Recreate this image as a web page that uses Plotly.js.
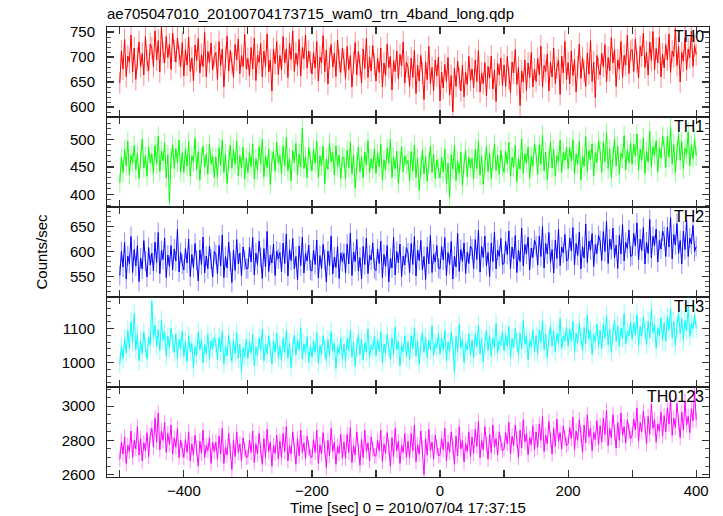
<!DOCTYPE html>
<html>
<head>
<meta charset="utf-8">
<script src="https://cdn.plot.ly/plotly-3.0.1.min.js"></script>
<style>html,body{margin:0;padding:0;background:#fff}#chart{width:723px;height:516px}</style>
</head>
<body>
<div id="chart"></div>
<script>
// time grid: bins from tStart with step binSize (sec)
const tStart = -500;
const binSize = 2.5;
const seriesNames = ["TH0", "TH1", "TH2", "TH3", "TH0123"];
const seriesColors = ["#ff0000", "#00ff00", "#0000ff", "#00ffff", "#ff00ff"];
const errorColors = ["rgba(255,0,0,0.45)", "rgba(0,255,0,0.45)", "rgba(0,0,255,0.45)", "rgba(0,255,255,0.45)", "rgba(255,0,255,0.45)"];
const errSize = [22, 18, 20, 28, 45];

const th0 = [
648,712,676,735,661,702,689,744,670,718,655,697,730,681,707,664,741,693,672,726,
718,681,752,694,733,670,760,709,688,741,699,726,675,748,712,690,738,703,681,729,
662,715,684,740,671,698,652,724,693,737,668,705,681,749,660,711,689,728,674,701,
709,655,731,683,716,640,699,742,672,713,688,659,725,694,736,667,703,681,745,676,
697,662,719,676,738,653,704,689,727,660,712,681,746,670,694,632,716,687,731,665,
703,674,741,688,716,659,727,695,752,671,708,683,735,662,719,697,744,678,712,690,
666,709,678,731,652,700,688,743,671,714,646,697,725,680,708,661,734,692,669,718,
694,657,721,675,703,640,689,729,664,711,683,648,716,677,737,659,700,672,723,686,
652,697,669,718,640,688,663,726,679,701,634,693,671,712,657,705,682,730,648,690,
680,641,698,659,713,627,684,652,703,668,615,690,655,721,646,679,633,694,662,700,
612,670,638,685,651,699,624,663,590,678,641,692,657,632,684,620,669,645,701,653,
676,639,694,651,713,630,668,647,689,622,681,658,702,636,674,611,687,664,698,643,
684,641,701,657,629,690,668,715,645,679,603,672,650,694,633,688,659,709,640,676,
651,697,664,722,640,683,671,706,632,690,660,718,647,679,694,625,702,668,731,655,
689,646,712,663,695,630,681,726,657,699,672,641,708,666,733,651,690,619,703,677,
664,707,681,725,650,699,672,739,688,715,641,694,676,731,659,703,684,744,667,711,
715,671,736,690,658,721,702,748,679,710,664,730,693,751,674,717,688,740,660,706,
678,725,694,746,669,712,701,757,683,721,650,709,692,738,674,716,699,752,681,723,
705];

const th1 = [
421,468,440,482,452,497,436,471,458,489,445,475,429,463,501,448,470,433,486,457,
474,438,489,455,506,442,479,461,494,430,472,385,466,490,447,483,458,499,441,476,
440,483,451,496,433,470,459,502,445,478,426,467,488,450,474,437,492,456,469,431,
468,431,485,452,499,440,474,420,463,490,447,481,455,497,434,471,448,486,428,466,
439,476,451,492,428,465,444,487,456,501,432,470,449,483,418,461,478,442,495,457,
471,437,488,452,504,443,466,425,480,458,493,436,474,450,521,447,469,430,485,461,
443,482,457,497,431,470,452,488,419,465,446,494,459,476,435,489,450,472,429,468,
466,428,481,449,495,437,472,412,458,486,441,469,430,477,453,498,439,465,447,483,
438,475,450,491,426,463,444,484,457,500,431,468,446,479,420,461,487,441,470,455,
462,425,478,443,490,431,466,408,452,481,437,469,424,458,488,440,473,429,463,446,
430,468,441,483,419,457,395,472,446,489,425,461,438,477,416,455,480,432,467,449,
465,428,482,447,496,435,470,418,458,487,441,475,429,463,492,444,471,436,480,453,
440,479,456,495,432,468,450,489,423,465,446,501,438,474,457,486,429,469,452,492,
473,436,490,455,508,443,477,427,465,495,448,482,433,471,459,499,440,476,462,486,
447,485,461,500,437,474,455,496,426,470,451,505,442,480,463,492,434,476,458,498,
478,440,495,460,512,447,483,431,469,501,452,488,437,475,466,507,445,481,458,494,
455,492,470,510,444,483,462,503,438,478,459,515,450,487,471,498,441,485,466,506,
487,449,505,468,522,455,491,440,479,509,462,496,446,484,473,514,452,489,465,501,
470];

const th2 = [
552,600,569,618,545,591,576,630,558,604,571,612,540,587,565,622,581,549,608,573,
597,561,619,578,638,556,602,584,627,548,593,570,612,563,605,581,644,559,598,575,
563,606,577,625,550,594,568,616,582,541,603,574,629,557,591,566,611,585,549,600,
594,555,612,571,633,548,590,567,619,580,538,603,562,624,575,597,551,609,583,566,
566,609,579,628,553,597,574,621,588,546,606,569,640,560,593,577,615,552,601,585,
598,559,617,576,635,551,604,582,626,565,590,543,611,572,629,557,596,581,613,563,
561,603,574,623,547,592,566,614,584,539,601,572,631,555,589,568,610,546,597,580,
596,557,615,575,637,552,599,580,624,561,588,545,610,574,627,556,593,583,617,566,
562,605,576,621,548,594,570,612,539,586,567,628,553,600,577,615,550,591,573,608,
597,558,616,574,630,551,603,582,622,563,590,544,609,575,632,558,595,579,612,567,
565,610,583,628,552,598,574,620,545,591,569,636,560,604,580,617,556,599,576,611,
605,566,624,584,643,559,610,588,631,571,598,550,617,580,639,565,603,590,626,574,
576,620,594,641,566,609,585,632,558,603,580,647,571,614,595,629,563,607,588,623,
612,573,631,590,650,567,616,595,638,578,604,557,623,586,645,572,609,597,634,581,
584,627,601,648,573,616,592,639,565,610,587,655,578,621,603,636,570,614,596,632,
621,582,640,600,660,576,625,604,647,587,613,566,632,595,654,581,618,606,643,590,
592,636,611,657,583,625,602,648,575,619,596,664,587,630,612,645,579,622,605,641,
630,590,649,609,668,585,634,613,656,596,622,575,641,604,663,590,627,615,652,600,
610];

const th3 = [
995,1048,1012,1070,1028,1095,1041,1120,1060,1145,1038,1082,1005,1064,1027,1090,1045,1010,1075,1052,
1180,1072,1110,1048,1097,1035,1125,1066,1089,1020,1078,1043,1101,1056,1030,1084,1012,1069,1040,1093,
1018,1062,1003,1079,1032,1056,985,1047,1021,1090,1038,1070,999,1052,1027,1083,1010,1064,1041,1075,
1057,1009,1074,1031,1092,996,1048,1020,1081,1037,1003,1066,1025,1088,1012,1054,973,1042,1016,1069,
1012,1061,1028,1083,990,1047,1019,1072,1036,1098,1004,1055,1026,1079,1041,996,1064,1030,1087,1015,
1050,1006,1072,1029,1094,1013,1058,985,1044,1081,1022,1067,1037,1103,1010,1055,1028,1076,1000,1049,
1015,1063,1030,1088,998,1051,1024,1079,1040,1005,1068,1019,1092,1034,1057,982,1046,1027,1073,1011,
1054,1003,1071,1035,1096,1016,1060,990,1045,1082,1024,1069,1008,1058,1031,1099,1014,1052,1037,1077,
1019,1068,1033,1091,1001,1055,1027,1084,1043,1010,1073,1024,1105,1038,1062,990,1050,1031,1080,1016,
1060,1008,1079,1041,1102,1019,1064,995,1052,1088,1030,1074,1013,1066,1037,1108,1021,1057,1043,1085,
1025,1072,1038,1095,1005,1061,1033,1090,1048,972,1077,1030,1112,1044,1068,1000,1056,1036,1085,1021,
1066,1014,1083,1047,1110,1025,1071,1002,1058,1095,1036,1080,1019,1073,1044,1115,1028,1064,1050,1092,
1034,1082,1048,1105,1015,1071,1043,1100,1060,1022,1087,1040,1123,1054,1078,1009,1066,1047,1097,1031,
1079,1026,1096,1060,1124,1038,1084,1015,1071,1108,1049,1093,1032,1086,1057,1130,1041,1077,1063,1105,
1049,1098,1063,1121,1030,1087,1058,1116,1076,1035,1103,1055,1140,1069,1094,1024,1082,1062,1113,1046,
1095,1040,1112,1074,1138,1052,1099,1030,1086,1123,1063,1108,1046,1101,1071,1145,1055,1092,1078,1120,
1068,1118,1082,1141,1049,1106,1077,1135,1094,1053,1122,1073,1158,1088,1113,1042,1101,1080,1132,1064,
1117,1062,1135,1097,1160,1073,1121,1050,1108,1146,1085,1130,1068,1124,1093,1165,1076,1113,1099,1142,
1100];

const th0123 = [
2690,2790,2720,2820,2665,2770,2735,2855,2700,2800,2750,2880,2715,2810,2680,2785,2740,2845,2705,2830,
2870,2760,2930,2790,2960,2745,2855,2800,2905,2730,2840,2775,2890,2720,2815,2760,2870,2700,2800,2745,
2700,2805,2730,2850,2680,2780,2715,2830,2755,2650,2795,2725,2860,2700,2770,2740,2815,2665,2790,2735,
2790,2690,2825,2720,2870,2665,2760,2715,2840,2740,2630,2800,2705,2850,2730,2780,2680,2815,2750,2700,
2705,2800,2730,2855,2670,2780,2720,2840,2745,2660,2810,2700,2865,2735,2790,2650,2770,2725,2830,2690,
2795,2700,2840,2735,2880,2680,2770,2720,2850,2745,2660,2810,2710,2860,2730,2785,2695,2825,2755,2705,
2700,2805,2730,2860,2665,2775,2720,2845,2750,2640,2800,2710,2870,2735,2790,2660,2765,2725,2835,2695,
2790,2695,2835,2730,2875,2670,2770,2715,2850,2740,2655,2805,2700,2860,2735,2785,2680,2820,2750,2710,
2710,2800,2740,2860,2675,2780,2725,2845,2760,2650,2815,2705,2870,2740,2795,2665,2770,2730,2840,2700,
2795,2700,2840,2740,2890,2675,2775,2720,2855,2750,2600,2810,2715,2865,2740,2790,2690,2830,2760,2710,
2715,2810,2745,2870,2680,2790,2730,2850,2765,2660,2825,2710,2880,2750,2800,2675,2780,2735,2850,2705,
2820,2725,2865,2765,2910,2700,2800,2745,2880,2775,2690,2835,2730,2890,2760,2810,2715,2850,2785,2740,
2750,2845,2780,2905,2720,2825,2770,2890,2805,2700,2860,2755,2920,2790,2840,2715,2815,2775,2885,2745,
2850,2760,2895,2800,2940,2735,2830,2780,2910,2805,2720,2870,2765,2925,2795,2845,2750,2885,2815,2770,
2780,2875,2810,2935,2745,2855,2800,2920,2835,2730,2890,2785,2950,2820,2870,2740,2845,2805,2915,2775,
2885,2790,2930,2835,2975,2770,2870,2815,2950,2845,2755,2905,2800,2960,2830,2880,2785,2920,2855,2810,
2830,2925,2860,2990,2795,2905,2850,2970,2885,2780,2940,2835,3010,2870,2920,2790,2895,2855,2965,2825,
2945,2850,2990,2895,3040,2830,2930,2875,3015,2905,2815,2965,2860,3030,2890,2940,2845,2985,2915,3090,
2920];

const yRanges = [[580, 760], [377, 541], [509, 689], [928, 1193], [2586, 3112]];
const yDtick = [50, 50, 50, 100, 200];
const yMinor = [10, 10, 10, 20, 50];

const allSeries = [th0, th1, th2, th3, th0123];
const times = th0.map((_, i) => tStart + i * binSize);

const font = {family: "Liberation Sans, Arial, sans-serif", size: 15, color: "#000"};
const labelFont = {family: "Liberation Sans, Arial, sans-serif", size: 16, color: "#000"};
const traces = [];
const layout = {
  width: 723, height: 516,
  margin: {l: 107, r: 14, t: 27, b: 39},
  paper_bgcolor: "#fff", plot_bgcolor: "#fff",
  showlegend: false,
  font: font,
  title: {text: "ae705047010_20100704173715_wam0_trn_4band_long.qdp", font: font,
          x: 0, xref: "paper", xanchor: "left", y: 1 - 14/516, yref: "container", yanchor: "middle"},
  annotations: []
};

allSeries.forEach((vals, k) => {
  const n = k + 1;
  const xa = n === 1 ? "x" : "x" + n;
  const ya = n === 1 ? "y" : "y" + n;
  traces.push({
    type: "scatter", mode: "lines", x: times, y: vals,
    xaxis: xa, yaxis: ya,
    line: {color: seriesColors[k], width: 1},
    error_y: {type: "constant", value: errSize[k], color: errorColors[k], thickness: 1, width: 0},
    hoverinfo: "skip"
  });
  const top = 1 - k * 0.2, bot = 1 - (k + 1) * 0.2;
  const xax = {
    domain: [0, 1], anchor: ya, range: [-520, 420],
    tick0: 0, dtick: 200, ticks: "inside", ticklen: 7, tickwidth: 1.2, tickcolor: "#333",
    minor: {dtick: 100, ticks: "inside", ticklen: 7, tickwidth: 1.2, tickcolor: "#333"},
    showline: true, linecolor: "#222", linewidth: 1, mirror: "ticks",
    showgrid: false, zeroline: false,
    showticklabels: n === 5, tickfont: font
  };
  if (n !== 1) xax.matches = "x";
  layout[n === 1 ? "xaxis" : "xaxis" + n] = xax;
  layout[n === 1 ? "yaxis" : "yaxis" + n] = {
    domain: [bot, top], anchor: xa, range: yRanges[k],
    tick0: 0, dtick: yDtick[k], ticks: "inside", ticklen: 7, tickwidth: 1.2, tickcolor: "#333",
    minor: {dtick: yMinor[k], ticks: "inside", ticklen: 4, tickwidth: 1, tickcolor: "#555"},
    showline: true, linecolor: "#222", linewidth: 1, mirror: "ticks",
    showgrid: false, zeroline: false, tickfont: font, ticklabelstandoff: 8
  };
  layout.annotations.push({
    text: seriesNames[k], xref: "paper", yref: "paper", x: 0.9935, y: top - 0.022,
    xanchor: "right", yanchor: "middle", showarrow: false, font: labelFont, borderpad: 0
  });
});
layout.xaxis5.title = {text: "Time [sec] 0 = 2010/07/04 17:37:15", font: font, standoff: 6};
layout.yaxis3.title = {text: "Counts/sec", font: font, standoff: 18};

Plotly.newPlot("chart", traces, layout, {displayModeBar: false, staticPlot: true});
</script>
</body>
</html>
